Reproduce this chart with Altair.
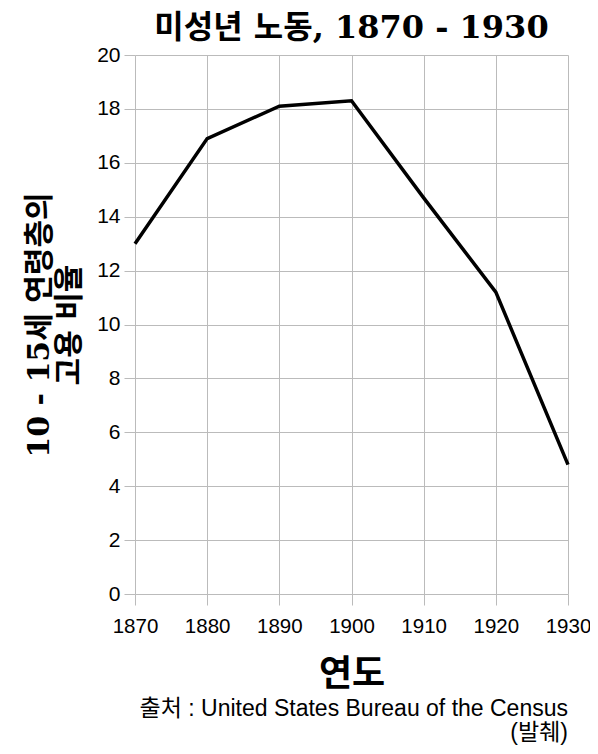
import altair as alt
import pandas as pd

years = [1870, 1880, 1890, 1900, 1910, 1920, 1930]
percent = [13.0, 16.9, 18.1, 18.3, 14.7, 11.2, 4.8]
x_ticks = [1870, 1880, 1890, 1900, 1910, 1920, 1930]
y_ticks = [0, 2, 4, 6, 8, 10, 12, 14, 16, 18, 20]
title_text = "미성년 노동, 1870 - 1930"
y_title = ["10 - 15세 연령층의", "고용 비율"]
x_title = "연도"
source_line1 = ["출처 : United States Bureau of the Census"]
source_line2 = ["(발췌)"]

W, H = 433, 539
df = pd.DataFrame({"year": years, "pct": percent})

label_font = "Liberation Sans, Arial, Noto Sans CJK KR"
kfont = "DejaVu Serif, Noto Sans CJK KR"

line = alt.Chart(df).mark_line(color="black", strokeWidth=3.5, strokeJoin="miter").encode(
    x=alt.X("year:Q",
            scale=alt.Scale(domain=[1870, 1930], nice=False, zero=False),
            axis=alt.Axis(values=x_ticks, format="d", title=x_title,
                          labelFont=label_font, labelFontSize=20.5, labelColor="black",
                          labelPadding=11, labelFlush=False, tickSize=11, tickColor="#bbbbbb",
                          gridColor="#bbbbbb", domain=False,
                          titleFont=kfont, titleFontSize=36, titleFontWeight="bold",
                          titleColor="black", titlePadding=21)),
    y=alt.Y("pct:Q",
            scale=alt.Scale(domain=[0, 20], nice=False),
            axis=alt.Axis(values=y_ticks, title=y_title,
                          labelFont=label_font, labelFontSize=21, labelColor="black",
                          labelPadding=4, labelFlush=False, tickSize=11, tickColor="#bbbbbb",
                          gridColor="#bbbbbb", domain=False,
                          titleFont=kfont, titleFontSize=30, titleFontWeight="bold",
                          titleColor="black", titlePadding=12, titleLineHeight=30)),
)


def src_text(lines, ypos):
    return alt.Chart(pd.DataFrame({"t": lines})).mark_text(
        align="right", baseline="alphabetic", fontSize=23, font=label_font, color="black"
    ).encode(text="t:N", x=alt.value(W), y=alt.value(ypos))


chart = alt.layer(line, src_text(source_line1, H + 122), src_text(source_line2, H + 146)).properties(
    width=W, height=H,
    title=alt.TitleParams(title_text, font=kfont, fontSize=32, fontWeight="bold",
                          color="black", anchor="middle", offset=0, dy=1),
    autosize=alt.AutoSizeParams(type="none"),
    padding={"left": 127, "top": 47, "right": 22, "bottom": 152},
).configure_view(stroke=None)

chart.save("out.html", embed_options={"renderer": "svg", "actions": False})
